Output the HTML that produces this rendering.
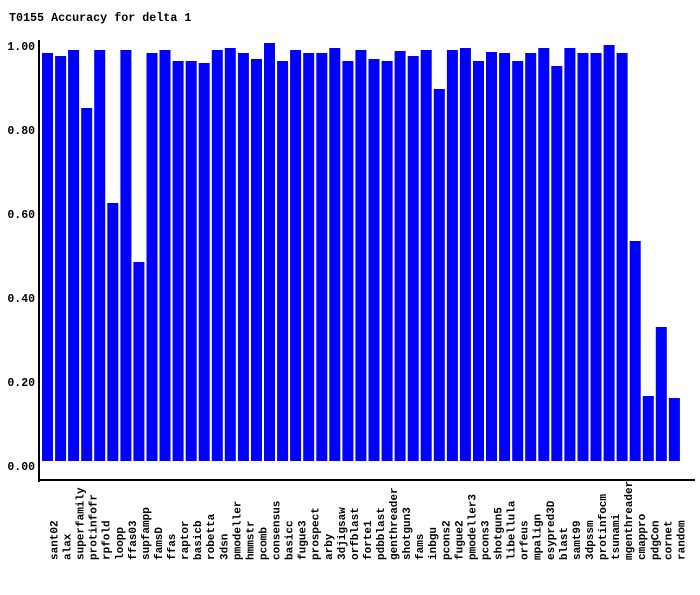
<!DOCTYPE html>
<html><head><meta charset="utf-8"><style>
body{margin:0;background:#fff;}
svg text{font-family:"Liberation Mono",monospace;font-weight:bold;fill:#000;}
</style></head><body>
<svg width="700" height="590" xmlns="http://www.w3.org/2000/svg">
<rect width="700" height="590" fill="#fff"/>
<text x="9" y="21" font-size="11.7">T0155 Accuracy for delta 1</text>
<g font-size="11.5" text-anchor="end">
<text x="35" y="50">1.00</text>
<text x="35" y="134">0.80</text>
<text x="35" y="218">0.60</text>
<text x="35" y="302">0.40</text>
<text x="35" y="386">0.20</text>
<text x="35" y="470">0.00</text>
</g>
<g fill="#0000ff" id="bars"></g>
<g font-size="11" id="labels"></g>
<rect x="38" y="40" width="2" height="442" fill="#000"/>
<rect x="38" y="479" width="657" height="2" fill="#000"/>
<script>
var d=[["sant02",53],["alax",56],["superfamily",50],["protinfofr",108],["rpfold",50],["loopp",203],["ffas03",50],["supfampp",262],["famsD",53],["ffas",50],["raptor",61],["basicb",61],["robetta",63],["3dsn",50],["pmodeller",48],["hmmstr",53],["pcomb",59],["consensus",43],["basicc",61],["fugue3",50],["prospect",53],["arby",53],["3djigsaw",48],["orfblast",61],["forte1",50],["pdbblast",59],["genthreader",61],["shotgun3",51],["fams",56],["inbgu",50],["pcons2",89],["fugue2",50],["pmodeller3",48],["pcons3",61],["shotgun5",52],["libellula",53],["orfeus",61],["mpalign",53],["esypred3D",48],["blast",66],["samt99",48],["3dpssm",53],["protinfocm",53],["tsunami",45],["mgenthreader",53],["cmappro",241],["pdgCon",396],["cornet",327],["random",398]];
var ns="http://www.w3.org/2000/svg",b=document.getElementById("bars"),l=document.getElementById("labels");
d.forEach(function(e,i){var x=42+i*13.06;var r=document.createElementNS(ns,"rect");
r.setAttribute("x",x.toFixed(1));r.setAttribute("y",e[1]);r.setAttribute("width",11);r.setAttribute("height",461-e[1]);b.appendChild(r);
var t=document.createElementNS(ns,"text");var cx=x+5.5+10;t.setAttribute("transform","translate("+cx.toFixed(1)+",560) rotate(-90)");t.setAttribute("text-anchor","start");t.textContent=e[0];l.appendChild(t);});
</script>
</svg>
</body></html>
